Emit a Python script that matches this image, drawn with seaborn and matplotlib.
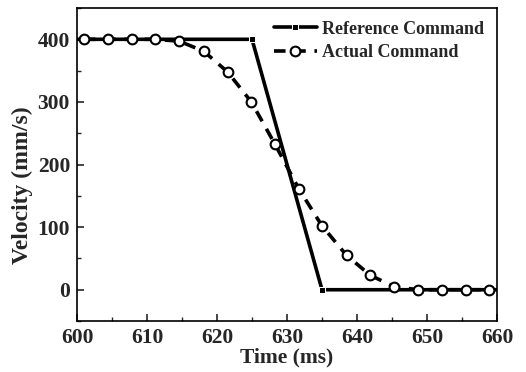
import matplotlib
matplotlib.use("Agg")
import matplotlib.pyplot as plt
import seaborn as sns
import pandas as pd
import numpy as np
from matplotlib.ticker import MultipleLocator

ref_time = [600, 625, 635, 660]
ref_vel = [400, 400, 0, 0]

act_time = [601.0, 604.4, 607.9, 611.2, 614.6, 618.1, 621.5, 624.9, 628.3,
            631.7, 635.0, 638.5, 641.9, 645.3, 648.7, 652.1, 655.5, 658.9]
act_vel = [400, 400, 400, 400, 397, 381, 348, 300, 232,
           161, 102, 55, 23, 5, 0, 0, 0, 0]

sns.set_theme(style="ticks")
plt.rcParams['font.family'] = ['Liberation Serif', 'DejaVu Serif']
plt.rcParams['font.weight'] = 'bold'

fig = plt.figure(figsize=(5.26, 3.72), dpi=100)
ax = fig.add_axes([0.1464, 0.137, 0.7985, 0.8415])

ref_df = pd.DataFrame({"t": ref_time, "v": ref_vel})
act_df = pd.DataFrame({"t": act_time, "v": act_vel})

sns.lineplot(data=ref_df, x="t", y="v", ax=ax, color="black", linewidth=2.6,
             marker="s", markersize=4.5, markevery=[1, 2], label="Reference Command")
sns.lineplot(data=act_df, x="t", y="v", ax=ax, color="black", linewidth=2.6,
             linestyle=(0, (3.2, 2.4)), marker="o", markersize=7,
             markerfacecolor="white", markeredgecolor="black", markeredgewidth=1.5,
             label="Actual Command")

ax.set_xlim(600, 660)
ax.set_ylim(-50, 450)
ax.xaxis.set_major_locator(MultipleLocator(10))
ax.xaxis.set_minor_locator(MultipleLocator(5))
ax.yaxis.set_major_locator(MultipleLocator(100))
ax.yaxis.set_minor_locator(MultipleLocator(50))
ax.set_yticks([0, 100, 200, 300, 400])
ax.tick_params(which="both", direction="in", top=False, right=False)
ax.tick_params(which="major", length=5, width=1.2, labelsize=15.5, pad=5)
ax.tick_params(which="minor", length=3, width=1.0)
for lab in ax.get_xticklabels() + ax.get_yticklabels():
    lab.set_fontweight("bold")
for s in ax.spines.values():
    s.set_linewidth(1.2)
    s.set_color("black")

ax.set_xlabel("Time (ms)", fontsize=15.5, fontweight="bold", labelpad=0)
ax.set_ylabel("Velocity (mm/s)", fontsize=17, fontweight="bold", labelpad=3)
ax.yaxis.label.set_y(0.435)

leg = ax.legend(loc="upper right", frameon=False, fontsize=13,
                handlelength=2.4, handletextpad=0.3, borderaxespad=0.3,
                labelspacing=0.35)
for t in leg.get_texts():
    t.set_fontweight("bold")

fig.savefig("out.png", dpi=100)
